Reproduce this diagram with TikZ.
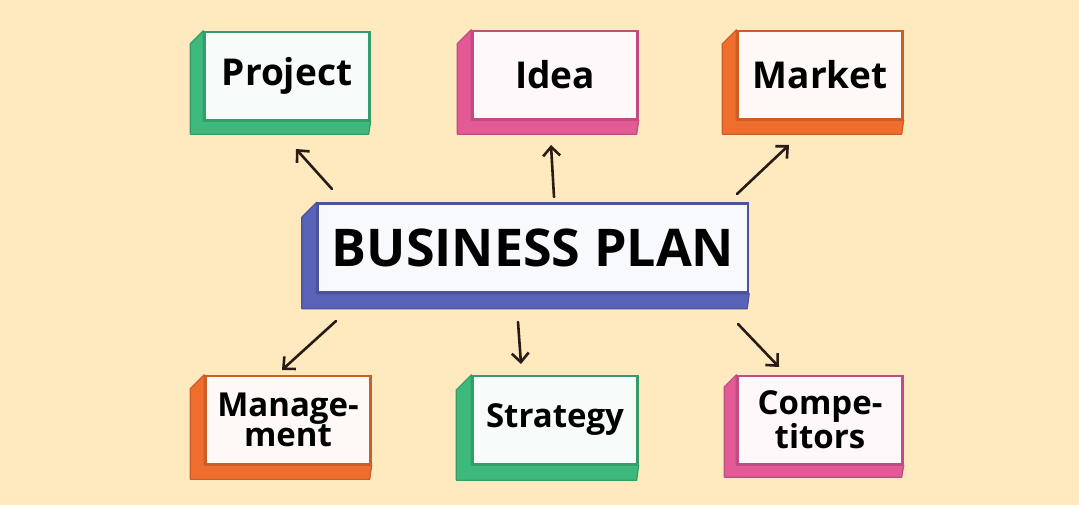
\documentclass[tikz,border=0pt]{standalone}
\usepackage{fontspec}
\setmainfont{Open Sans}
\usetikzlibrary{arrows.meta}

\definecolor{paper}{RGB}{254,234,190}
\definecolor{bpgreen}{RGB}{62,185,125}
\definecolor{bppink}{RGB}{226,90,150}
\definecolor{bporange}{RGB}{240,110,45}
\definecolor{bpblue}{RGB}{88,98,182}
\definecolor{ink}{RGB}{42,28,20}

\tikzset{
	card/.style={draw=#1!85!black, line width=2.4pt, fill=white!96!#1,
		minimum width=165pt, minimum height=88pt, inner sep=0pt, align=center,
		font=\bfseries\fontsize{37}{37}\selectfont},
	lower/.style={font=\bfseries\fontsize{33}{30}\selectfont},
	depth/.style={fill=#1, draw=#1!85!black, line width=1.2pt, line join=round},
	pointer/.style={-{Straight Barb[length=9pt,width=17pt]}, draw=ink,
		line width=2.6pt, line cap=round}
}

\begin{document}
\begin{tikzpicture}[x=1pt,y=1pt]

	% Background
	\useasboundingbox[fill=paper] (0,0) rectangle (1079,505);

	% Blocks
	\node[card=bpblue, minimum width=430pt, minimum height=89pt,
		font=\bfseries\fontsize{52}{52}\selectfont] (plan) at (533,257) {BUSINESS PLAN};
	\node[card=bpgreen] (project) at (287,429) {Project};
	\node[card=bppink] (idea) at (555,430) {Idea};
	\node[card=bporange] (market) at (820,430) {Market};
	\node[card=bporange, lower] (management) at (288,85) {Manage-\\ment};
	\node[card=bpgreen, lower] (strategy) at (555,85) {Strategy};
	\node[card=bppink, lower] (competitors) at (820,85) {Compe-\\titors};

	% Depth of the blocks
	\foreach \name/\col/\d in {plan/bpblue/15, project/bpgreen/13, idea/bppink/14,
		market/bporange/14, management/bporange/14, strategy/bpgreen/15,
		competitors/bppink/12}
		\filldraw[depth=\col] (\name.north west) -- ++(-\d,-\d)
			-- ([shift={(-\d,-\d)}]\name.south west)
			-- ([shift={(-2,-\d)}]\name.south east)
			-- (\name.south east) -- (\name.south west) -- cycle;

	% Arrows
	\coordinate (to project) at (296,356);
	\coordinate (from project) at (332,316);
	\coordinate (to idea) at (551,360);
	\coordinate (from idea) at (554,308);
	\coordinate (to market) at (789,360);
	\coordinate (from market) at (737,311);
	\coordinate (to management) at (282,135);
	\coordinate (from management) at (336,184);
	\coordinate (to strategy) at (521,141);
	\coordinate (from strategy) at (518,183);
	\coordinate (to competitors) at (779,138);
	\coordinate (from competitors) at (738,181);
	\foreach \name in {project,idea,market,management,strategy,competitors}
		\draw[pointer] (from \name) -- (to \name);

\end{tikzpicture}
\end{document}
